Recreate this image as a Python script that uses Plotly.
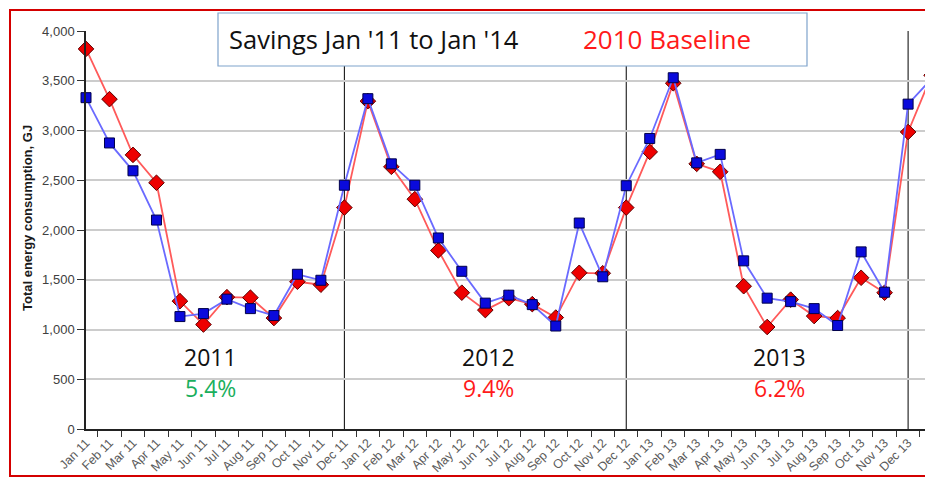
import plotly.graph_objects as go

months = ["Jan 11", "Feb 11", "Mar 11", "Apr 11", "May 11", "Jun 11", "Jul 11", "Aug 11",
          "Sep 11", "Oct 11", "Nov 11", "Dec 11",
          "Jan 12", "Feb 12", "Mar 12", "Apr 12", "May 12", "Jun 12", "Jul 12", "Aug 12",
          "Sep 12", "Oct 12", "Nov 12", "Dec 12",
          "Jan 13", "Feb 13", "Mar 13", "Apr 13", "May 13", "Jun 13", "Jul 13", "Aug 13",
          "Sep 13", "Oct 13", "Nov 13", "Dec 13", "Jan 14"]

baseline_2010 = [3820, 3315, 2755, 2475, 1285, 1050, 1325, 1320, 1115, 1480, 1450, 2225,
                 3295, 2635, 2310, 1795, 1370, 1195, 1315, 1255, 1120, 1570, 1565, 2225,
                 2785, 3475, 2665, 2585, 1435, 1025, 1300, 1135, 1115, 1520, 1370, 2985, 3555]

actual = [3330, 2875, 2595, 2100, 1130, 1160, 1305, 1210, 1140, 1555, 1495, 2450,
          3320, 2665, 2450, 1920, 1585, 1265, 1345, 1250, 1035, 2070, 1530, 2445,
          2920, 3530, 2675, 2760, 1690, 1315, 1280, 1210, 1040, 1780, 1375, 3265, 3520]

year_labels = ["2011", "2012", "2013"]
year_savings = ["5.4%", "9.4%", "6.2%"]
savings_colors = ["#1aaf5d", "#ff1a1a", "#ff1a1a"]
year_dividers = ["Dec 11", "Dec 12", "Dec 13"]

y_ticks = [0, 500, 1000, 1500, 2000, 2500, 3000, 3500, 4000]

idx = list(range(len(months)))

# the page places the figure 8 px in from the top-left corner
OFF = 8
W, H = 933 - OFF, 478 - OFF
# plot area in page pixels
L, R, T, B = 86, 933, 31, 429


def px(x):
    return (x - L) / (R - L)


def py(y):
    return (B - y) / (B - T)


fig = go.Figure()

fig.add_trace(go.Scatter(
    x=idx, y=baseline_2010, mode="lines+markers", name="2010 Baseline",
    line=dict(color="#ff5a5a", width=1.8),
    marker=dict(symbol="diamond", size=12, color="#ee0000",
                line=dict(color="#5a0000", width=1)),
    cliponaxis=False, showlegend=False))

fig.add_trace(go.Scatter(
    x=idx, y=actual, mode="lines+markers", name="Actual",
    line=dict(color="#6a6aff", width=1.8),
    marker=dict(symbol="square", size=10, color="#0a0adc",
                line=dict(color="#00004a", width=1)),
    cliponaxis=False, showlegend=False))

shapes = []
for m in year_dividers:
    i = months.index(m)
    shapes.append(dict(type="line", xref="x", yref="y", x0=i, x1=i, y0=0, y1=4000,
                       line=dict(color="black", width=1), layer="below"))

# title box
shapes.append(dict(type="rect", xref="paper", yref="paper",
                   x0=px(218), x1=px(807), y0=py(66), y1=py(13),
                   fillcolor="white", line=dict(color="#7fa3cc", width=1.2), layer="above"))
# outer red frame
shapes.append(dict(type="rect", xref="paper", yref="paper",
                   x0=px(10), x1=px(945), y0=py(476), y1=py(10),
                   fillcolor="rgba(0,0,0,0)", line=dict(color="#d40000", width=2), layer="above"))

annotations = [
    dict(xref="paper", yref="paper", x=px(227), y=py(39), xanchor="left", yanchor="middle",
         text="Savings Jan '11 to Jan '14", showarrow=False,
         font=dict(family="Open Sans", size=25.5, color="#111111")),
    dict(xref="paper", yref="paper", x=px(581), y=py(39), xanchor="left", yanchor="middle",
         text="2010 Baseline", showarrow=False,
         font=dict(family="Open Sans", size=26, color="#ff1a1a")),
]

year_centers_px = [210, 488, 779]
for yl, sv, c, cx in zip(year_labels, year_savings, savings_colors, year_centers_px):
    annotations.append(dict(xref="paper", yref="paper", x=px(cx), y=py(357),
                            xanchor="center", yanchor="middle", text=yl, showarrow=False,
                            font=dict(family="Open Sans", size=23, color="#111111")))
    annotations.append(dict(xref="paper", yref="paper", x=px(cx), y=py(388),
                            xanchor="center", yanchor="middle", text=sv, showarrow=False,
                            font=dict(family="Open Sans", size=23, color=c)))

annotations.append(dict(xref="paper", yref="paper", x=px(27), y=py(218),
                        xanchor="center", yanchor="middle", textangle=-90,
                        text="<b>Total energy consumption, GJ</b>", showarrow=False,
                        font=dict(family="Liberation Sans, Arial", size=13, color="#1a1a1a")))

fig.update_layout(
    width=W, height=H,
    margin=dict(l=L - OFF, r=W - (R - OFF), t=T - OFF, b=H - (B - OFF), pad=0, autoexpand=False),
    paper_bgcolor="white", plot_bgcolor="white",
    shapes=shapes, annotations=annotations,
    font=dict(family="Liberation Sans, Arial", color="#404040"),
)

fig.update_xaxes(
    range=[0, 36.06], tickmode="array", tickvals=idx, ticktext=months,
    tickangle=-45, ticks="", tickfont=dict(size=12.5, color="#5a5a5a"),
    showgrid=False, zeroline=False,
    showline=True, linecolor="#222222", linewidth=1.5,
    minor=dict(tickmode="array", tickvals=[i + 0.5 for i in idx[:-1]],
               ticks="outside", ticklen=6, tickcolor="#333333", tickwidth=1, showgrid=False),
)

fig.update_yaxes(
    range=[0, 4000], tickmode="array", tickvals=y_ticks,
    ticktext=[f"{v:,}" for v in y_ticks],
    ticks="outside", ticklen=7, tickcolor="#333333",
    tickfont=dict(size=13, color="#404040"),
    showgrid=True, gridcolor="#cccccc", gridwidth=1.5,
    zeroline=False, showline=True, linecolor="#222222", linewidth=1.5,
)

fig.write_html("out.html")
